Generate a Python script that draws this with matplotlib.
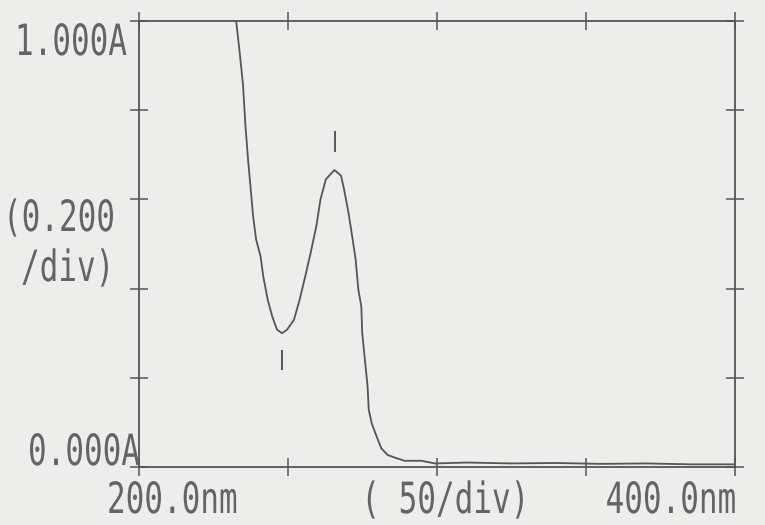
"""Espectro UV-Vis (impressão matricial do espectrofotômetro)."""

import matplotlib
matplotlib.use('Agg')
import matplotlib.pyplot as plt
from matplotlib.patheffects import AbstractPathEffect
from matplotlib.transforms import Affine2D

# ---------------------------------------------------------------------------
# Dados lidos do registro
# ---------------------------------------------------------------------------
comprimento_onda = [232.6, 233.7, 234.9, 235.7, 236.6, 237.5, 238.3, 239.3,
                    240.8, 241.7, 243.2, 244.7, 246.3, 248.0, 249.7, 252.0,
                    253.9, 255.8, 257.6, 259.5, 260.9, 262.7, 265.6, 267.8,
                    268.8, 270.3, 271.7, 272.7, 273.6, 274.6, 274.9, 275.8,
                    276.7, 277.1, 278.1, 279.7, 281.3, 283.4, 286.3, 289.1,
                    294.8, 299.3, 310.0, 325.0, 340.0, 355.0, 370.0, 385.0,
                    400.0]
absorbancia = [1.000, 0.935, 0.857, 0.767, 0.689, 0.622, 0.562, 0.510,
               0.472, 0.427, 0.375, 0.338, 0.308, 0.300, 0.308, 0.330,
               0.375, 0.428, 0.480, 0.540, 0.600, 0.645, 0.666, 0.653,
               0.623, 0.570, 0.510, 0.465, 0.398, 0.360, 0.301, 0.241,
               0.181, 0.128, 0.098, 0.069, 0.042, 0.027, 0.020, 0.014,
               0.014, 0.008, 0.010, 0.008, 0.009, 0.007, 0.008, 0.006,
               0.006]

# marcas de pico e vale impressas pelo aparelho
marca_nm = [265.9, 248.0]
marca_ini = [0.706, 0.218]
marca_fim = [0.753, 0.263]

x_ticks = [200, 250, 300, 350, 400]
y_ticks = [0.0, 0.2, 0.4, 0.6, 0.8, 1.0]

COR = '#555555'
PAPEL = '#ededeb'


class Estreito(AbstractPathEffect):
    """Comprime o texto na horizontal em torno de x0 (pixels da figura)."""

    def __init__(self, sx, x0):
        super().__init__()
        self.sx = sx
        self.x0 = x0

    def draw_path(self, renderer, gc, tpath, affine, rgbFace=None):
        aperto = Affine2D().translate(-self.x0, 0).scale(self.sx, 1).translate(self.x0, 0)
        renderer.draw_path(gc, tpath, affine + aperto, rgbFace)


W, H = 765, 525
fig = plt.figure(figsize=(W / 100, H / 100), dpi=100, facecolor=PAPEL)
ax = fig.add_axes([139 / W, 1 - 467 / H, 596 / W, 446 / H])
ax.set_facecolor(PAPEL)

ax.plot(comprimento_onda, absorbancia, color=COR, lw=1.3, solid_joinstyle='round')
ax.vlines(marca_nm, marca_ini, marca_fim, color=COR, lw=1.4)

ax.set_xlim(200, 400)
ax.set_ylim(0, 1.0)
ax.set_xticks(x_ticks)
ax.set_yticks(y_ticks)
ax.tick_params(direction='inout', length=13, width=1.1, color=COR,
               top=True, right=True, labelbottom=False, labelleft=False)
for s in ax.spines.values():
    s.set_color(COR)
    s.set_linewidth(1.3)

# textos: (x de ancoragem, linha de base, alinhamento, texto) em pixels
textos = [
    (15, 55, 'left', '1.000A'),
    (3, 231, 'left', '(0.200'),
    (21, 281, 'left', '/div)'),
    (28, 465, 'left', '0.000A'),
    (107, 513, 'left', '200.0nm'),
    (529, 513, 'right', '( 50/div)'),
    (736, 513, 'right', '400.0nm'),
]
for px, py, ha, t in textos:
    fig.text(px / W, 1 - py / H, t, family='DejaVu Sans Mono', fontsize=31,
             color='#646464', ha=ha, va='baseline',
             path_effects=[Estreito(0.72, px)])

fig.savefig('out.png', dpi=100, facecolor=PAPEL)
